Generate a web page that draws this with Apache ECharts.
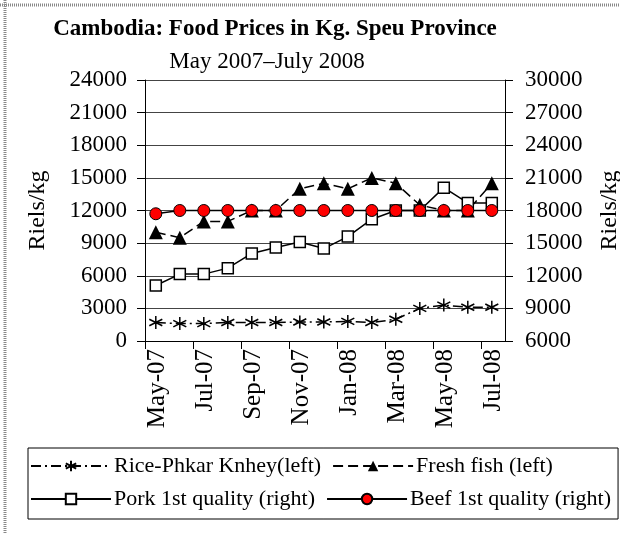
<!DOCTYPE html>
<html>
<head>
<meta charset="utf-8">
<title>Cambodia: Food Prices in Kg. Speu Province</title>
<script src="https://cdn.jsdelivr.net/npm/echarts@6/dist/echarts.min.js"></script>
<style>
  html, body { margin: 0; padding: 0; background: #fff; }
  #chart { width: 620px; height: 534px; }
</style>
</head>
<body>
<div id="chart"></div>
<script>
/* 月份（每个点约在当月中旬） */
const months = ['2007-05', '2007-06', '2007-07', '2007-08', '2007-09', '2007-10', '2007-11', '2007-12',
  '2008-01', '2008-02', '2008-03', '2008-04', '2008-05', '2008-06', '2008-07']
/* x 轴刻度标签（每两个月） */
const tickLabels = ['May-07', 'Jul-07', 'Sep-07', 'Nov-07', 'Jan-08', 'Mar-08', 'May-08', 'Jul-08']

/* 左轴 */
const rice = [1700, 1600, 1600, 1700, 1700, 1700, 1750, 1750, 1800, 1700, 2000, 3000, 3300, 3100, 3100]
const fish = [10000, 9500, 11000, 11000, 12000, 12000, 14000, 14500, 14000, 15000, 14500, 12500, 12000, 12000, 14500]
/* 右轴 */
const pork = [11100, 12150, 12150, 12700, 14050, 14600, 15100, 14500, 15600, 17200, 18000, 18000, 20100, 18700, 18700]
const beef = [17700, 18000, 18000, 18000, 18000, 18000, 18000, 18000, 18000, 18000, 18000, 18000, 18000, 18000, 18000]

const FONT = 'Liberation Serif'

// 点的位置：月份序号 + 约半个月
const toPoints = values => values.map((v, i) => [i + 0.45, v])

const chart = echarts.init(document.getElementById('chart'))

chart.setOption({
  animation: false,
  textStyle: { fontFamily: FONT, color: '#000' },
  title: [
    {
      text: 'Cambodia: Food Prices in Kg. Speu Province',
      left: 270,
      top: 13,
      textAlign: 'center',
      textStyle: { fontFamily: FONT, fontSize: 23, fontWeight: 'bold', color: '#000' }
    },
    {
      text: 'May 2007\u2013July 2008',
      left: 262,
      top: 45,
      textAlign: 'center',
      textStyle: { fontFamily: FONT, fontSize: 23, fontWeight: 'normal', color: '#000' }
    }
  ],
  grid: { left: 145, right: 115, top: 80, bottom: 193, outerBoundsMode: 'none' },
  legend: {
    left: 28,
    top: 448,
    width: 585,
    padding: [7, 7, 9, 2],
    borderColor: '#000',
    borderWidth: 1,
    itemWidth: 80,
    itemHeight: 13,
    itemGap: 11,
    textStyle: { fontFamily: FONT, fontSize: 22, lineHeight: 19, color: '#000', padding: [0, 0, 0, -2] },
    data: ['Rice-Phkar Knhey(left)', 'Fresh fish (left)', 'Pork 1st quality (right)', 'Beef 1st quality (right)']
  },
  xAxis: {
    type: 'value',
    min: 0,
    max: 15,
    interval: 2,
    splitLine: { show: false },
    axisLine: { onZero: false, lineStyle: { color: '#000', width: 1 } },
    axisTick: { length: 8, lineStyle: { color: '#000' } },
    axisLabel: {
      rotate: 90,
      fontFamily: FONT,
      fontSize: 25,
      color: '#000',
      margin: 8,
      verticalAlign: 'top',
      showMaxLabel: false,
      formatter: v => (v % 2 === 0 ? tickLabels[v / 2] || '' : '')
    }
  },
  yAxis: [
    {
      type: 'value',
      min: 0,
      max: 24000,
      interval: 3000,
      name: 'Riels/kg',
      nameLocation: 'middle',
      nameGap: 95,
      nameTextStyle: { fontFamily: FONT, fontSize: 24, color: '#000' },
      axisLine: { show: true, lineStyle: { color: '#000' } },
      axisTick: { show: true, length: 8, lineStyle: { color: '#000' } },
      axisLabel: { fontFamily: FONT, fontSize: 23, color: '#000', margin: 18, formatter: v => String(v) },
      splitLine: { lineStyle: { color: '#444', width: 1 } }
    },
    {
      type: 'value',
      min: 6000,
      max: 30000,
      interval: 3000,
      name: 'Riels/kg',
      nameLocation: 'middle',
      nameGap: 93,
      nameRotate: 90,
      nameTextStyle: { fontFamily: FONT, fontSize: 24, color: '#000' },
      axisLine: { show: true, lineStyle: { color: '#000' } },
      axisTick: { show: true, length: 8, lineStyle: { color: '#000' } },
      axisLabel: { fontFamily: FONT, fontSize: 23, color: '#000', margin: 20, formatter: v => String(v) },
      splitLine: { show: false }
    }
  ],
  series: [
    {
      name: 'Rice-Phkar Knhey(left)',
      type: 'line',
      yAxisIndex: 0,
      symbol: 'path://M0,-10L0,10M-8.66,-5L8.66,5M-8.66,5L8.66,-5',
      symbolSize: 13,
      itemStyle: { color: 'none', borderColor: '#000', borderWidth: 1.5 },
      lineStyle: { color: '#000', width: 1.5, type: [10, 4, 2, 4] },
      data: toPoints(rice)
    },
    {
      name: 'Fresh fish (left)',
      type: 'line',
      yAxisIndex: 0,
      symbol: 'triangle',
      symbolSize: 14,
      itemStyle: { color: '#000' },
      lineStyle: { color: '#000', width: 1.5, type: [10, 5] },
      data: toPoints(fish)
    },
    {
      name: 'Pork 1st quality (right)',
      type: 'line',
      yAxisIndex: 1,
      symbol: 'rect',
      symbolSize: 11,
      itemStyle: { color: '#fff', borderColor: '#000', borderWidth: 1.5 },
      lineStyle: { color: '#000', width: 1.5 },
      data: toPoints(pork)
    },
    {
      name: 'Beef 1st quality (right)',
      type: 'line',
      yAxisIndex: 1,
      symbol: 'circle',
      symbolSize: 12,
      itemStyle: { color: '#ff0000', borderColor: '#000', borderWidth: 1 },
      lineStyle: { color: '#000', width: 1.5 },
      data: toPoints(beef)
    }
  ],
  // 外框的点状边线
  graphic: [
    { type: 'line', shape: { x1: 0, y1: 5, x2: 620, y2: 5 }, style: { stroke: '#888', lineWidth: 3, lineDash: [1, 1] } },
    { type: 'line', shape: { x1: 5, y1: 0, x2: 5, y2: 534 }, style: { stroke: '#888', lineWidth: 3, lineDash: [1, 1] } }
  ]
})
</script>
</body>
</html>
